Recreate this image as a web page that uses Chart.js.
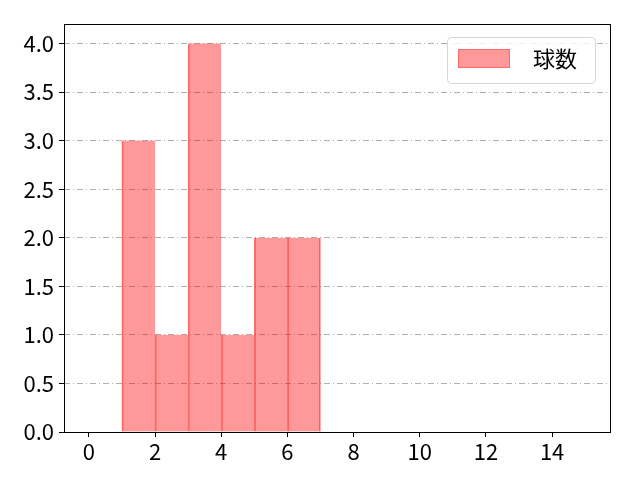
<!DOCTYPE html>
<html>
<head>
<meta charset="utf-8">
<script src="https://cdn.jsdelivr.net/npm/chart.js@4.4.1/dist/chart.umd.min.js"></script>
<style>
    html, body { margin: 0; padding: 0; background: #fff; }
</style>
</head>
<body>
<canvas id="bieudo" width="640" height="480"></canvas>
<script>
// histogram: bin edges and counts
const binEdges = [1, 2, 3, 4, 5, 6, 7];
const counts = [3, 1, 4, 1, 2, 2];
const xTicks = [0, 2, 4, 6, 8, 10, 12, 14];
const yTicks = [0, 0.5, 1, 1.5, 2, 2.5, 3, 3.5, 4];
const seriesName = '球数';

const fontFam = '"Noto Sans CJK JP", "Noto Sans", sans-serif';

var bars = counts.map(function (c, i) {
    return { x: (binEdges[i] + binEdges[i + 1]) / 2, y: c };
});

// frame round the plot + legend in the top right corner
const framePlugin = {
    id: 'frame',
    afterDraw: function (chart) {
        var ctx = chart.ctx;
        var a = chart.chartArea;
        ctx.save();
        ctx.strokeStyle = '#000';
        ctx.lineWidth = 1;
        ctx.strokeRect(Math.round(a.left) + 0.5, Math.round(a.top) + 0.5,
            Math.round(a.right - a.left), Math.round(a.bottom - a.top));

        var ds = chart.data.datasets[0];
        var bx = Math.round(a.right) - 163, by = Math.round(a.top) + 13;
        ctx.fillStyle = 'rgba(255,255,255,0.8)';
        ctx.strokeStyle = '#d6d6d6';
        ctx.beginPath();
        ctx.roundRect(bx + 0.5, by + 0.5, 148, 46, 4);
        ctx.fill();
        ctx.stroke();
        ctx.fillStyle = ds.backgroundColor;
        ctx.strokeStyle = 'rgba(255, 0, 0, 0.3)';
        ctx.fillRect(bx + 11, by + 12, 52, 19);
        ctx.strokeRect(bx + 11.5, by + 12.5, 51, 18);
        ctx.fillStyle = '#000';
        ctx.font = '22px ' + fontFam;
        ctx.textBaseline = 'middle';
        ctx.fillText(ds.label, bx + 86, by + 22);
        ctx.restore();
    }
};

new Chart(document.getElementById('bieudo'), {
    type: 'bar',
    data: {
        datasets: [{
            label: seriesName,
            data: bars,
            backgroundColor: 'rgba(255, 0, 0, 0.4)',
            borderColor: 'rgba(255, 0, 0, 0.55)',
            // one edge line between neighbouring bins, like matplotlib
            borderWidth: function (c) {
                return { left: 1, top: 0, bottom: 0, right: c.dataIndex === counts.length - 1 ? 1 : 0 };
            },
            borderSkipped: false,
            barPercentage: 1,
            categoryPercentage: 1,
            grouped: false
        }]
    },
    options: {
        responsive: false,
        animation: false,
        devicePixelRatio: 1,
        layout: { padding: { top: 24, right: 30, left: 0, bottom: 0 } },
        plugins: {
            tooltip: { enabled: false },
            legend: { display: false }
        },
        scales: {
            x: {
                type: 'linear',
                offset: false,
                min: -0.75,
                max: 15.75,
                afterBuildTicks: function (s) {
                    s.ticks = xTicks.map(function (v) { return { value: v }; });
                },
                afterFit: function (s) { s.height = 48; },
                border: { display: false },
                grid: { offset: false, drawOnChartArea: false, drawTicks: true, tickLength: 5, tickColor: '#000' },
                ticks: {
                    font: { family: fontFam, size: 22 },
                    color: '#000',
                    padding: 1,
                    maxRotation: 0
                }
            },
            y: {
                min: 0,
                max: 4.2,
                z: 1,
                afterBuildTicks: function (s) {
                    s.ticks = yTicks.map(function (v) { return { value: v }; });
                },
                afterFit: function (s) { s.width = 64; },
                border: { display: false, dash: [6, 3, 1, 3] },
                grid: {
                    color: '#b0b0b0',
                    lineWidth: 1,
                    drawTicks: true,
                    tickLength: 5,
                    tickColor: '#000',
                    tickBorderDash: []
                },
                ticks: {
                    font: { family: fontFam, size: 22 },
                    color: '#000',
                    padding: 5,
                    callback: function (v) { return v.toFixed(1); }
                }
            }
        }
    },
    plugins: [framePlugin]
});
</script>
</body>
</html>
